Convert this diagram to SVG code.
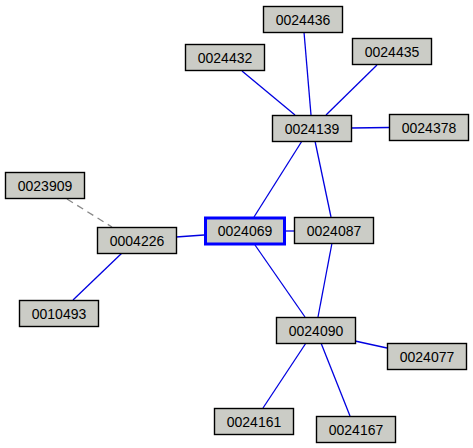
<svg xmlns="http://www.w3.org/2000/svg" width="473" height="448" viewBox="0 0 473 448">
<style>
.n rect{fill:#cbccc6;stroke:#000;stroke-width:1.4}
.n text{font-family:"Liberation Sans",Arial,sans-serif;font-size:14px;text-anchor:middle;fill:#000}
.e line{stroke:#0000e0;stroke-width:1.3}
.e line.d{stroke:#888;stroke-dasharray:7,5}
#n0024069 rect{stroke:#0000ff;stroke-width:3}
</style>
<rect width="473" height="448" fill="#fff"/>
<g class="e">
<line x1="242" y1="71" x2="295" y2="115"/>
<line x1="304" y1="32" x2="311" y2="115"/>
<line x1="377" y1="65" x2="326" y2="115"/>
<line x1="351" y1="128" x2="389" y2="127.5"/>
<line x1="302" y1="141" x2="254" y2="217"/>
<line x1="315" y1="141" x2="331" y2="217"/>
<line x1="285" y1="231" x2="294" y2="231"/>
<line x1="176" y1="237" x2="204" y2="235"/>
<line class="d" x1="67" y1="199" x2="112" y2="227"/>
<line x1="122" y1="253" x2="73" y2="300"/>
<line x1="255" y1="245" x2="305" y2="317"/>
<line x1="332" y1="243" x2="318" y2="317"/>
<line x1="355" y1="341" x2="387" y2="348"/>
<line x1="306" y1="343" x2="263" y2="408"/>
<line x1="321" y1="343" x2="350" y2="416"/>
</g>
<g id="n0024436" class="n"><rect x="263.5" y="6.5" width="79" height="26"/><text x="303" y="24.5">0024436</text></g>
<g id="n0024432" class="n"><rect x="185.5" y="44.5" width="79" height="26"/><text x="225" y="62.5">0024432</text></g>
<g id="n0024435" class="n"><rect x="352.5" y="38.5" width="79" height="26"/><text x="392" y="56.5">0024435</text></g>
<g id="n0024139" class="n"><rect x="272.5" y="115.5" width="79" height="26"/><text x="312" y="133.5">0024139</text></g>
<g id="n0024378" class="n"><rect x="389.5" y="114.5" width="79" height="26"/><text x="429" y="132.5">0024378</text></g>
<g id="n0023909" class="n"><rect x="5.5" y="172.5" width="79" height="26"/><text x="45" y="190.5">0023909</text></g>
<g id="n0004226" class="n"><rect x="97.5" y="227.5" width="79" height="26"/><text x="137" y="245.5">0004226</text></g>
<g id="n0024069" class="n"><rect x="205.5" y="218" width="79" height="26"/><text x="245" y="236">0024069</text></g>
<g id="n0024087" class="n"><rect x="294.5" y="217.5" width="79" height="26"/><text x="334" y="235.5">0024087</text></g>
<g id="n0010493" class="n"><rect x="19.5" y="300.5" width="79" height="26"/><text x="59" y="318.5">0010493</text></g>
<g id="n0024090" class="n"><rect x="276.5" y="317.5" width="79" height="26"/><text x="316" y="335.5">0024090</text></g>
<g id="n0024077" class="n"><rect x="387.5" y="343.5" width="79" height="26"/><text x="427" y="361.5">0024077</text></g>
<g id="n0024161" class="n"><rect x="214.5" y="408.5" width="79" height="26"/><text x="254" y="426.5">0024161</text></g>
<g id="n0024167" class="n"><rect x="316.5" y="416.5" width="79" height="26"/><text x="356" y="434.5">0024167</text></g>
</svg>
